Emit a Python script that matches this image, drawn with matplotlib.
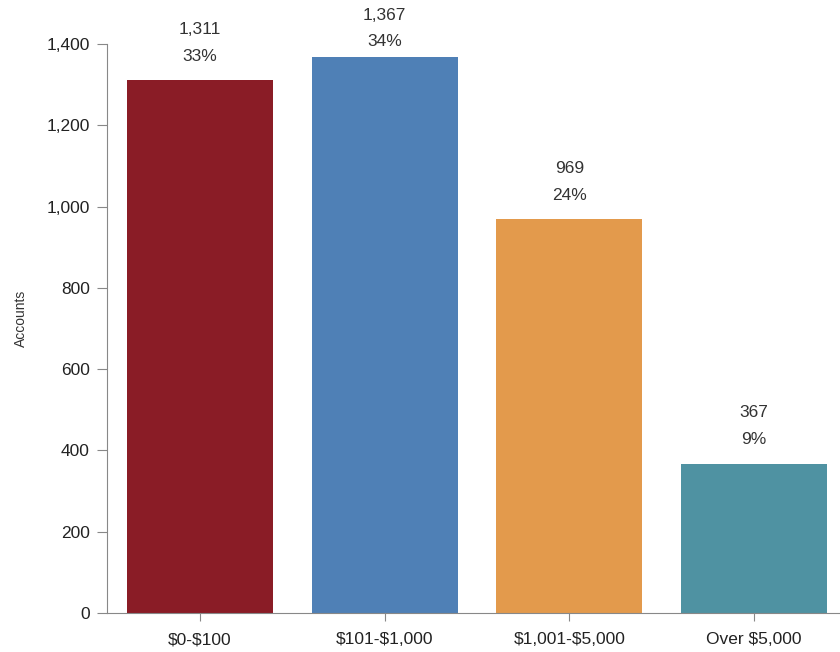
import matplotlib
matplotlib.use("Agg")
import matplotlib.pyplot as plt

plt.rcParams['font.family'] = ['Liberation Sans', 'DejaVu Sans']

categories = ["\\$0-\\$100", "\\$101-\\$1,000", "\\$1,001-\\$5,000", "Over \\$5,000"]
accounts = [1311, 1367, 969, 367]
shares = ["33%", "34%", "24%", "9%"]
colors = ["#8a1c26", "#4f80b6", "#e39a4c", "#4f92a2"]

W, H = 840, 652
top_px, bottom_px, left_px = 44, 613, 107

fig = plt.figure(figsize=(W / 100, H / 100), dpi=100)
ax = fig.add_axes([left_px / W, (H - bottom_px) / H, 1 - left_px / W, (bottom_px - top_px) / H])

x = list(range(len(categories)))
ax.bar(x, accounts, width=0.79, color=colors)

# labels sit above each bar, but are squeezed down when near the top edge
px_per_unit = (bottom_px - top_px) / 1400
for xi, v, s in zip(x, accounts, shares):
    bar_top = top_px + (1400 - v) * px_per_unit
    off = min(51, bar_top - 15)
    ax.annotate(f"{v:,}", (xi, v), xytext=(0, off * 0.72), textcoords="offset points",
                ha="center", va="center", fontsize=12.5, color="#333333",
                annotation_clip=False)
    ax.annotate(s, (xi, v), xytext=(0, (off - 27) * 0.72), textcoords="offset points",
                ha="center", va="center", fontsize=12.5, color="#333333",
                annotation_clip=False)

ax.set_xlim(-0.504, 3.466)
ax.set_ylim(0, 1400)
ax.set_yticks(range(0, 1401, 200))
ax.set_yticklabels([f"{t:,}" for t in range(0, 1401, 200)])
ax.set_xticks(x)
ax.set_xticklabels(categories)
ax.set_ylabel("Accounts", fontsize=10, color="#333333")
ax.yaxis.set_label_coords(-0.108, 0.518)

for side in ["top", "right"]:
    ax.spines[side].set_visible(False)
for side in ["left", "bottom"]:
    ax.spines[side].set_color("#888888")
ax.tick_params(axis="both", colors="#888888", labelcolor="#222222", labelsize=12.5)
ax.tick_params(axis="y", length=7, pad=5.5)
ax.tick_params(axis="x", length=6, pad=8)

fig.savefig("out.png", dpi=100)
